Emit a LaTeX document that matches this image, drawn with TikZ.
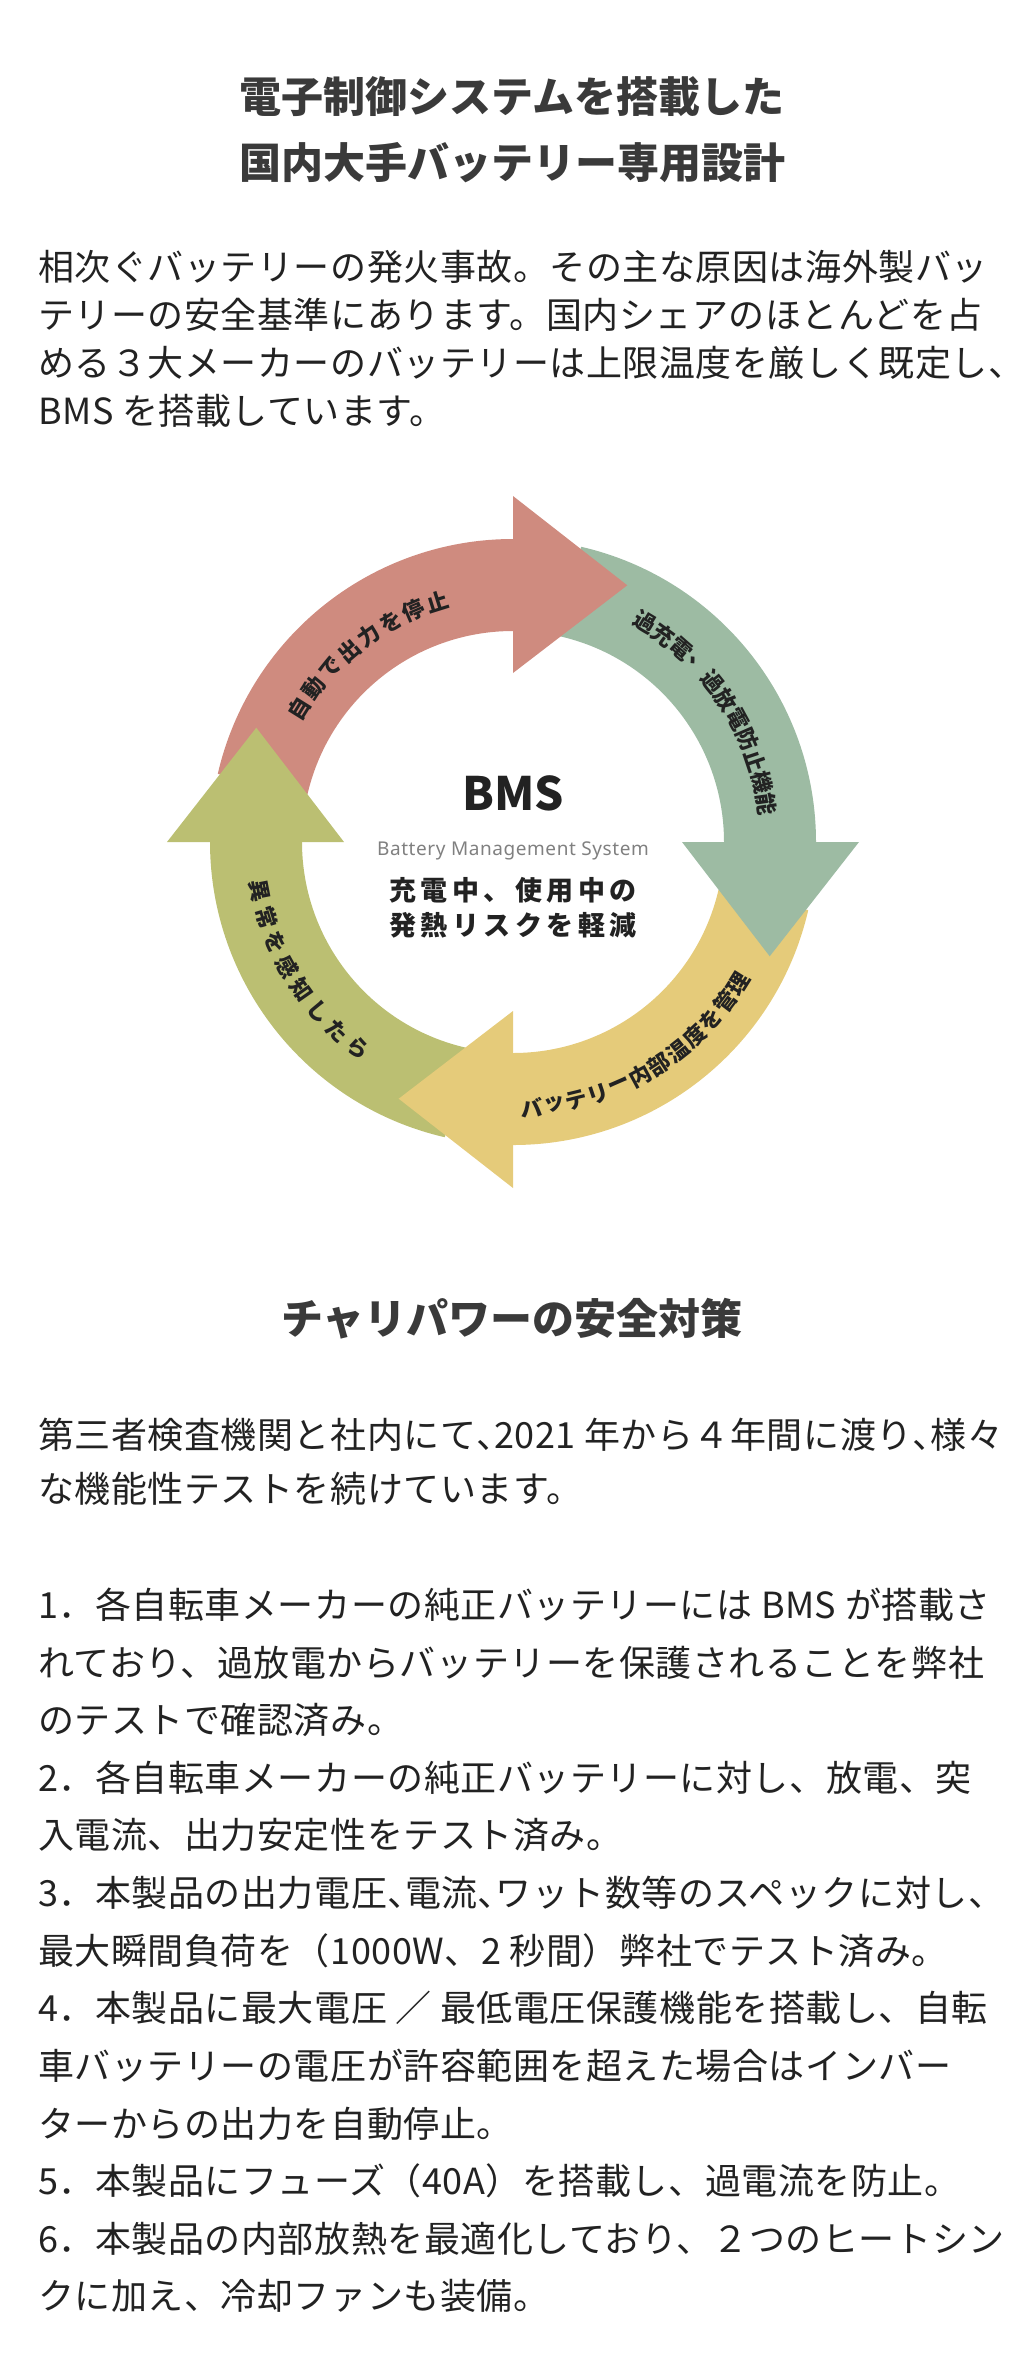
\documentclass[tikz,border=0pt]{standalone}
\usepackage{fontspec}
\setmainfont{Noto Sans CJK JP}
\newfontfamily\jpbody{Noto Sans CJK JP}[LetterSpace=1.5]
\newfontfamily\latinsans{Noto Sans}
\usepackage{xcolor}
\definecolor{arcred}{HTML}{CF8B7F}
\definecolor{arcgreen}{HTML}{9DBBA3}
\definecolor{arcyellow}{HTML}{E5CB7A}
\definecolor{arcolive}{HTML}{BBBF72}
\definecolor{inkgray}{HTML}{3A3A3A}
\definecolor{inkbody}{HTML}{222222}
\newcommand{\halfcomma}{\makebox[0.5em][l]{、}}

\begin{document}
\begin{tikzpicture}[x=1pt, y=1pt,
                    every node/.style={inner sep=0pt},
                    heading/.style={font=\fontsize{42}{50}\selectfont\bfseries, text=inkgray},
                    body/.style={anchor=west, font=\fontsize{36}{44}\jpbody, text=inkbody},
                    arclabel/.style={font=\fontsize{22}{24}\selectfont\bfseries, text=inkbody},
                    centre/.style={font=\fontsize{27}{32}\selectfont\bfseries, text=inkbody}
                ]
                    \useasboundingbox (0,0) rectangle (1024,-2353);

                    % Headings
                    \node (title1) [heading] at (512,-97) {電子制御システムを搭載した};
                    \node (title2) [heading] at (512,-163) {国内大手バッテリー専用設計};

                    % Intro paragraph
                    \foreach \t [count=\i from 0] in {相次ぐバッテリーの発火事故。その主な原因は海外製バッ,
                        テリーの安全基準にあります。国内シェアのほとんどを占,
                        める３大メーカーのバッテリーは上限温度を厳しく既定し、,
                        BMS を搭載しています。}
                        \node (intro\i) [body] at (38,-267-48*\i) {\t};

                    % BMS cycle
                    \begin{scope}[shift={(513,-842)}]
                        \fill[arcred] (167:303) arc (167:90:303) -- (90:211) arc (90:167:211) -- cycle;
                        \fill[arcgreen] (77:303) arc (77:0:303) -- (0:211) arc (0:77:211) -- cycle;
                        \fill[arcyellow] (-13:303) arc (-13:-90:303) -- (-90:211) arc (-90:-13:211) -- cycle;
                        \fill[arcolive] (-103:303) arc (-103:-180:303) -- (-180:211) arc (-180:-103:211) -- cycle;
                        \foreach \a/\c in {90/arcred, 0/arcgreen, -90/arcyellow, 180/arcolive}
                            \fill[\c] (\a:169) -- (\a:346) -- (\a-24:281) -- cycle;

                        % labels along the ring
                        \foreach \ch [count=\i from 0] in {自,動,で,出,力,を,停,止}
                            \node[arclabel, rotate=148-5.8*\i-90] at (148-5.8*\i:252) {\ch};
                        \foreach \ch [count=\i from 0] in {過,充,電,、,過,放,電,防,止,機,能}
                            \node[arclabel, rotate=59-5.06*\i-90] at (59-5.06*\i:256) {\ch};
                        \foreach \ch [count=\i from 0] in {バ,ッ,テ,リ,ー,内,部,温,度,を,管,理}
                            \node[arclabel, rotate=274+4.9*\i+90] at (274+4.9*\i:266) {\ch};
                        \foreach \ch [count=\i from 0] in {異,常,を,感,知,し,た,ら}
                            \node[arclabel, rotate=191+6*\i+90] at (191+6*\i:258) {\ch};

                        \node (bms) [font=\fontsize{46}{50}\selectfont\bfseries, text=inkbody] at (0,49) {BMS};
                        \node (bmsfull) [font=\fontsize{19}{22}\latinsans\addfontfeature{LetterSpace=3}, text=gray] at (0,-9) {Battery Management System};
                        \node (risk1) [centre] at (0,-48) {充\,電\,中\,、\,使\,用\,中\,の};
                        \node (risk2) [centre] at (0,-83) {発\,熱\,リ\,ス\,ク\,を\,軽\,減};
                    \end{scope}

                    % Safety section
                    \node (title3) [heading] at (512,-1319) {チャリパワーの安全対策};

                    \foreach \t [count=\i from 0] in {第三者検査機関と社内にて\halfcomma 2021 年から４年間に渡り\halfcomma 様々,
                        な機能性テストを続けています。}
                        \node (para\i) [body] at (38,-1435-54*\i) {\t};

                    \foreach \t [count=\i from 0] in {1．各自転車メーカーの純正バッテリーには BMS が搭載さ,
                        れており、過放電からバッテリーを保護されることを弊社,
                        のテストで確認済み。,
                        2．各自転車メーカーの純正バッテリーに対し、放電、突,
                        入電流、出力安定性をテスト済み。,
                        3．本製品の出力電圧\halfcomma 電流\halfcomma ワット数等のスペックに対し、,
                        最大瞬間負荷を（1000W、2 秒間）弊社でテスト済み。,
                        4．本製品に最大電圧 ／ 最低電圧保護機能を搭載し、自転,
                        車バッテリーの電圧が許容範囲を超えた場合はインバー,
                        ターからの出力を自動停止。,
                        5．本製品にフューズ（40A）を搭載し、過電流を防止。,
                        6．本製品の内部放熱を最適化しており、２つのヒートシン,
                        クに加え、冷却ファンも装備。}
                        \node (item\i) [body] at (38,-1605-57.6*\i) {\t};

                \end{tikzpicture}
\end{document}
